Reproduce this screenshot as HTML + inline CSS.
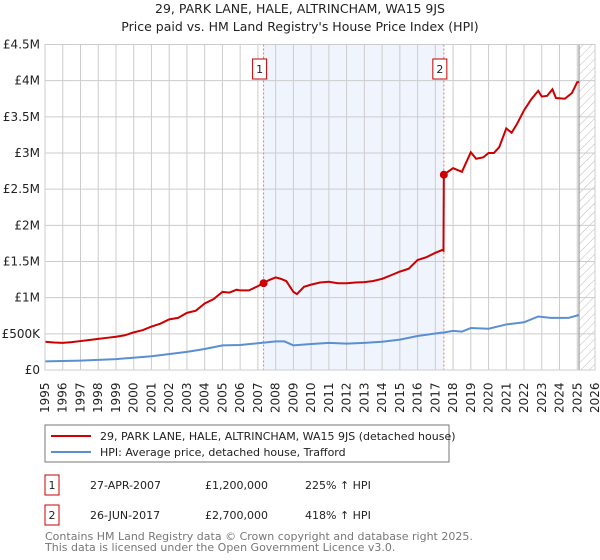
<!DOCTYPE html>
<html><head><meta charset="utf-8"><style>
body{margin:0;background:#fff;width:600px;height:560px;overflow:hidden;font-family:"DejaVu Sans","Liberation Sans",sans-serif}
svg{display:block}
</style></head><body>
<svg id="c" width="600" height="560" xmlns="http://www.w3.org/2000/svg" font-family="DejaVu Sans, Liberation Sans, sans-serif">
<defs><pattern id="hatch" width="6" height="6" patternUnits="userSpaceOnUse" patternTransform="rotate(45)"><line x1="0" y1="0" x2="0" y2="6" stroke="#bbb" stroke-width="1"/></pattern></defs>
<text x="300" y="13" text-anchor="middle" font-size="12.5" fill="#222">29, PARK LANE, HALE, ALTRINCHAM, WA15 9JS</text>
<text x="300" y="31" text-anchor="middle" font-size="12.5" fill="#222">Price paid vs. HM Land Registry's House Price Index (HPI)</text>
<g id="plot"></g>
<rect x="45" y="425" width="404" height="37" fill="#fff" stroke="#777"/>
<line x1="51" y1="436" x2="91" y2="436" stroke="#cc0000" stroke-width="2"/>
<text x="100" y="440" font-size="11" fill="#222">29, PARK LANE, HALE, ALTRINCHAM, WA15 9JS (detached house)</text>
<line x1="51" y1="452" x2="91" y2="452" stroke="#5b8fd4" stroke-width="2"/>
<text x="100" y="456" font-size="11" fill="#222">HPI: Average price, detached house, Trafford</text>
<g font-size="11" fill="#222">
<rect x="45" y="475" width="14" height="20" fill="#fff" stroke="#cc0000"/>
<text x="52" y="489" text-anchor="middle">1</text>
<text x="90" y="489">27-APR-2007</text>
<text x="205" y="489">£1,200,000</text>
<text x="305" y="489">225% ↑ HPI</text>
<rect x="45" y="505" width="14" height="20" fill="#fff" stroke="#cc0000"/>
<text x="52" y="519" text-anchor="middle">2</text>
<text x="90" y="519">26-JUN-2017</text>
<text x="205" y="519">£2,700,000</text>
<text x="305" y="519">418% ↑ HPI</text>
</g>
<text x="45" y="540" font-size="11" fill="#777">Contains HM Land Registry data © Crown copyright and database right 2025.</text>
<text x="45" y="551" font-size="11" fill="#777">This data is licensed under the Open Government Licence v3.0.</text>
</svg>
<script>
const yTicks=[0,500000,1000000,1500000,2000000,2500000,3000000,3500000,4000000,4500000];
const yTickLabels=["£0","£500K","£1M","£1.5M","£2M","£2.5M","£3M","£3.5M","£4M","£4.5M"];
const xYears=[1995,1996,1997,1998,1999,2000,2001,2002,2003,2004,2005,2006,2007,2008,2009,2010,2011,2012,2013,2014,2015,2016,2017,2018,2019,2020,2021,2022,2023,2024,2025,2026];
const saleDates=[2007.32,2017.48];
const salePrices=[1200000,2700000];
const saleLabels=["1","2"];
const propT=[1995,1995.5,1996,1996.5,1997,1997.5,1998,1998.5,1999,1999.5,2000,2000.5,2001,2001.5,2002,2002.5,2003,2003.5,2004,2004.5,2005,2005.4,2005.8,2006,2006.5,2007,2007.32,2007.6,2008,2008.3,2008.6,2009,2009.2,2009.6,2010,2010.5,2011,2011.5,2012,2012.5,2013,2013.5,2014,2014.5,2015,2015.5,2016,2016.5,2017,2017.4,2017.46,2017.48,2018,2018.5,2019,2019.3,2019.7,2020,2020.3,2020.6,2021,2021.3,2021.6,2022,2022.4,2022.8,2023,2023.3,2023.6,2023.8,2024.3,2024.7,2025,2025.1];
const propV=[390000,380000,375000,385000,400000,415000,430000,445000,460000,480000,520000,550000,600000,640000,700000,720000,790000,820000,920000,980000,1080000,1070000,1110000,1100000,1100000,1160000,1200000,1240000,1280000,1260000,1230000,1080000,1050000,1150000,1180000,1210000,1220000,1200000,1200000,1210000,1215000,1230000,1260000,1310000,1360000,1400000,1520000,1560000,1620000,1660000,1650000,2700000,2790000,2740000,3010000,2920000,2940000,3000000,3000000,3080000,3340000,3280000,3400000,3590000,3740000,3860000,3780000,3790000,3880000,3760000,3750000,3830000,3980000,3980000];
const hpiT=[1995,1997,1999,2001,2003,2004,2005,2006,2007,2008,2008.5,2009,2010,2011,2012,2013,2014,2015,2016,2017,2017.5,2018,2018.5,2019,2020,2021,2022,2022.8,2023.5,2024.5,2025.1];
const hpiV=[120000,130000,150000,190000,250000,290000,340000,345000,370000,395000,395000,340000,360000,375000,365000,375000,390000,420000,470000,505000,520000,540000,530000,580000,570000,630000,660000,740000,720000,720000,760000];
const X=t=>45+(t-1995)*(550/31);
const Y=v=>370-v*(325.5/4500000);
const NS="http://www.w3.org/2000/svg";
const g=document.getElementById('plot');
function mk(tag,attrs,parent){const e=document.createElementNS(NS,tag);for(const k in attrs)e.setAttribute(k,attrs[k]);(parent||g).appendChild(e);return e;}
const shade=mk('rect',{x:X(saleDates[0]),y:Y(4500000),width:X(saleDates[1])-X(saleDates[0]),height:Y(0)-Y(4500000),fill:'#f0f4fd'});


const hatch=mk('rect',{x:X(2025.1),y:Y(4500000),width:X(2026)-X(2025.1),height:Y(0)-Y(4500000),fill:'url(#hatch)'});


xYears.forEach(yr=>{const l=mk('line',{x1:X(yr),x2:X(yr),y1:Y(4500000),y2:Y(0),stroke:'#ccc'});


const t=mk('text',{transform:`translate(${X(yr)+4},${413}) rotate(-90)`,'font-size':'12',fill:'#222'});t.textContent=yr;

});
yTicks.forEach((v,i)=>{const l=mk('line',{x1:45,x2:595,y1:Y(v),y2:Y(v),stroke:'#ccc'});


const t=mk('text',{x:40,y:Y(v)+4,'text-anchor':'end','font-size':'12',fill:'#222'});t.textContent=yTickLabels[i];

});
const vl=mk('line',{x1:X(2025.1),x2:X(2025.1),y1:Y(4500000),y2:Y(0),stroke:'#888'});


saleDates.forEach((d,i)=>{const l=mk('line',{x1:X(d),x2:X(d),y1:Y(4500000),y2:Y(0),stroke:'#f07070','stroke-dasharray':'2,2'});


const r=mk('rect',{x:X(d)-11,y:59,width:14,height:20,fill:'#fff',stroke:'#cc0000'});


const t=mk('text',{x:X(d)-4,y:73,'text-anchor':'middle','font-size':'11',fill:'#222'});t.textContent=saleLabels[i];

});
const hp=mk('polyline',{points:hpiT.map((t,i)=>X(t)+','+Y(hpiV[i])).join(' '),fill:'none',stroke:'#5b8fd4','stroke-width':2});


const pp=mk('polyline',{points:propT.map((t,i)=>X(t)+','+Y(propV[i])).join(' '),fill:'none',stroke:'#cc0000','stroke-width':2});


saleDates.forEach((d,i)=>{const c=mk('circle',{cx:X(d),cy:Y(salePrices[i]),r:4,fill:'#cc0000'});

});
const bd=mk('rect',{x:45,y:Y(4500000),width:550,height:Y(0)-Y(4500000),fill:'none',stroke:'#ccc'});


</script>
</body></html>
